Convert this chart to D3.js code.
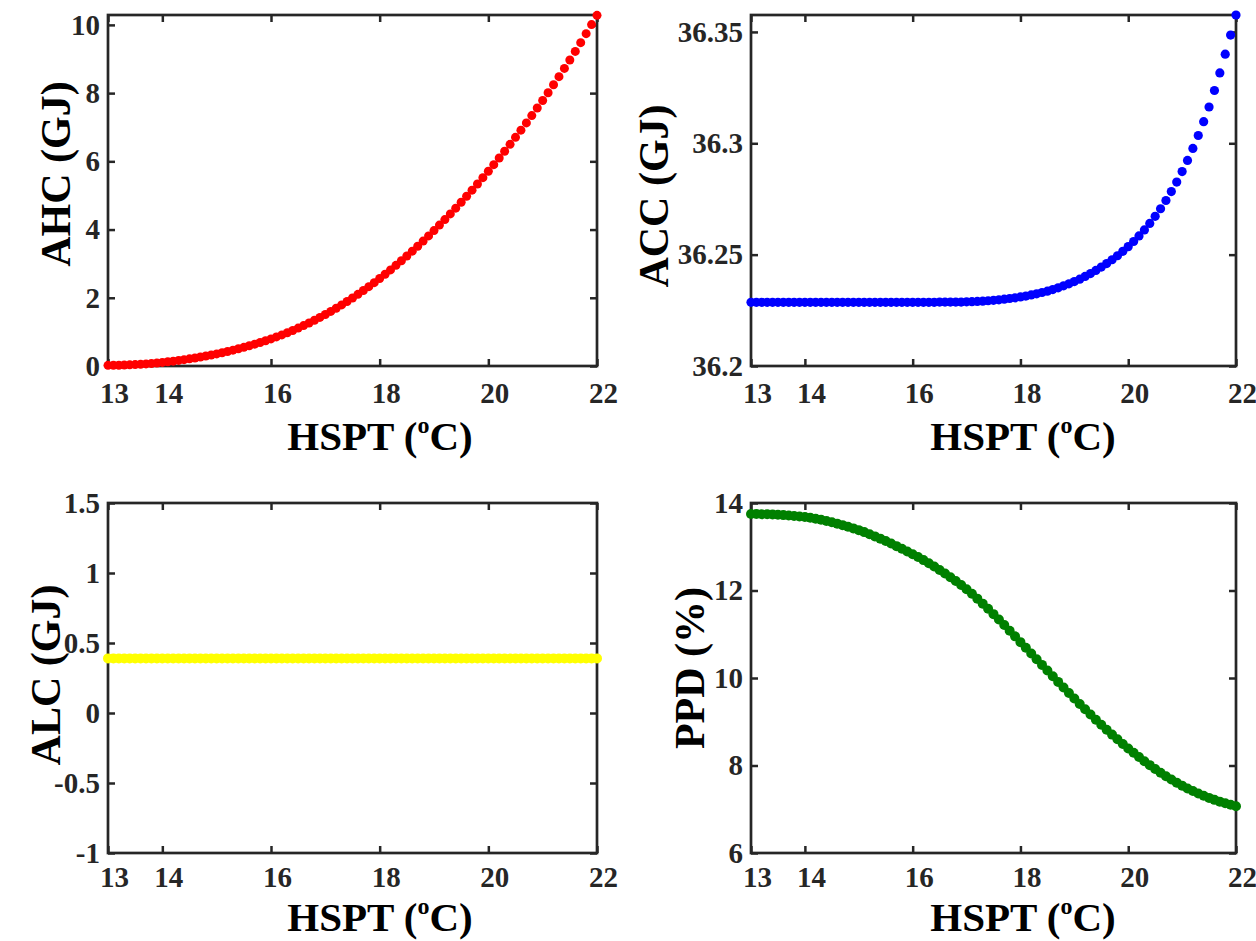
<!DOCTYPE html>
<html>
<head>
<meta charset="utf-8">
<script src="https://cdn.jsdelivr.net/npm/d3@7"></script>
<style>
  body { margin: 0; background: #fff; }
  svg text { font-family: "Liberation Serif", "Times New Roman", serif; font-weight: bold; }
</style>
</head>
<body>
<svg width="1256" height="941"></svg>
<script>
// heating set point, 13..22 step 0.1
var hspt = [13.0, 13.1, 13.2, 13.3, 13.4, 13.5, 13.6, 13.7, 13.8, 13.9,
    14.0, 14.1, 14.2, 14.3, 14.4, 14.5, 14.6, 14.7, 14.8, 14.9,
    15.0, 15.1, 15.2, 15.3, 15.4, 15.5, 15.6, 15.7, 15.8, 15.9,
    16.0, 16.1, 16.2, 16.3, 16.4, 16.5, 16.6, 16.7, 16.8, 16.9,
    17.0, 17.1, 17.2, 17.3, 17.4, 17.5, 17.6, 17.7, 17.8, 17.9,
    18.0, 18.1, 18.2, 18.3, 18.4, 18.5, 18.6, 18.7, 18.8, 18.9,
    19.0, 19.1, 19.2, 19.3, 19.4, 19.5, 19.6, 19.7, 19.8, 19.9,
    20.0, 20.1, 20.2, 20.3, 20.4, 20.5, 20.6, 20.7, 20.8, 20.9,
    21.0, 21.1, 21.2, 21.3, 21.4, 21.5, 21.6, 21.7, 21.8, 21.9,
    22.0];

// annual heating consumption (GJ)
var ahc = [0.020, 0.021, 0.023, 0.028, 0.034, 0.041, 0.051, 0.062, 0.074, 0.089,
    0.105, 0.123, 0.142, 0.163, 0.186, 0.210, 0.236, 0.263, 0.292, 0.323,
    0.355, 0.389, 0.425, 0.464, 0.505, 0.548, 0.593, 0.640, 0.689, 0.741,
    0.795, 0.852, 0.912, 0.975, 1.041, 1.111, 1.184, 1.261, 1.341, 1.424,
    1.510, 1.600, 1.693, 1.790, 1.890, 1.994, 2.101, 2.212, 2.326, 2.444,
    2.565, 2.690, 2.818, 2.950, 3.085, 3.224, 3.366, 3.512, 3.661, 3.814,
    3.970, 4.130, 4.292, 4.458, 4.628, 4.800, 4.976, 5.154, 5.336, 5.522,
    5.710, 5.902, 6.097, 6.296, 6.498, 6.704, 6.913, 7.126, 7.342, 7.562,
    7.785, 8.012, 8.245, 8.482, 8.724, 8.971, 9.223, 9.480, 9.742, 10.008,
    10.280];

// annual cooling consumption (GJ)
var acc = [36.2286, 36.2286, 36.2286, 36.2286, 36.2286, 36.2286, 36.2286, 36.2286, 36.2286, 36.2286,
    36.2286, 36.2286, 36.2286, 36.2286, 36.2286, 36.2286, 36.2286, 36.2286, 36.2286, 36.2286,
    36.2286, 36.2286, 36.2286, 36.2286, 36.2286, 36.2286, 36.2286, 36.2286, 36.2286, 36.2286,
    36.2286, 36.2286, 36.2286, 36.2286, 36.2286, 36.2287, 36.2287, 36.2287, 36.2287, 36.2287,
    36.2288, 36.2289, 36.2290, 36.2291, 36.2293, 36.2295, 36.2297, 36.2300, 36.2303, 36.2306,
    36.2310, 36.2314, 36.2319, 36.2324, 36.2330, 36.2336, 36.2343, 36.2351, 36.2360, 36.2369,
    36.2379, 36.2390, 36.2402, 36.2415, 36.2429, 36.2444, 36.2460, 36.2477, 36.2495, 36.2515,
    36.2536, 36.2559, 36.2584, 36.2611, 36.2640, 36.2672, 36.2706, 36.2743, 36.2783, 36.2826,
    36.2873, 36.2923, 36.2977, 36.3035, 36.3097, 36.3163, 36.3237, 36.3316, 36.3400, 36.3486,
    36.3576];

// annual lighting consumption (GJ)
var alc = [0.39, 0.39, 0.39, 0.39, 0.39, 0.39, 0.39, 0.39, 0.39, 0.39,
    0.39, 0.39, 0.39, 0.39, 0.39, 0.39, 0.39, 0.39, 0.39, 0.39,
    0.39, 0.39, 0.39, 0.39, 0.39, 0.39, 0.39, 0.39, 0.39, 0.39,
    0.39, 0.39, 0.39, 0.39, 0.39, 0.39, 0.39, 0.39, 0.39, 0.39,
    0.39, 0.39, 0.39, 0.39, 0.39, 0.39, 0.39, 0.39, 0.39, 0.39,
    0.39, 0.39, 0.39, 0.39, 0.39, 0.39, 0.39, 0.39, 0.39, 0.39,
    0.39, 0.39, 0.39, 0.39, 0.39, 0.39, 0.39, 0.39, 0.39, 0.39,
    0.39, 0.39, 0.39, 0.39, 0.39, 0.39, 0.39, 0.39, 0.39, 0.39,
    0.39, 0.39, 0.39, 0.39, 0.39, 0.39, 0.39, 0.39, 0.39, 0.39,
    0.39];

// predicted percentage dissatisfied (%)
var ppd = [13.750, 13.748, 13.745, 13.741, 13.736, 13.730, 13.723, 13.714, 13.704, 13.693,
    13.680, 13.662, 13.641, 13.617, 13.590, 13.560, 13.528, 13.494, 13.458, 13.420,
    13.380, 13.335, 13.287, 13.237, 13.185, 13.130, 13.073, 13.014, 12.954, 12.893,
    12.830, 12.764, 12.695, 12.623, 12.548, 12.470, 12.389, 12.304, 12.216, 12.125,
    12.030, 11.924, 11.814, 11.700, 11.582, 11.460, 11.336, 11.210, 11.082, 10.952,
    10.820, 10.690, 10.560, 10.430, 10.300, 10.170, 10.040, 9.911, 9.783, 9.656,
    9.530, 9.406, 9.284, 9.164, 9.046, 8.930, 8.817, 8.706, 8.598, 8.493,
    8.390, 8.290, 8.193, 8.099, 8.008, 7.920, 7.836, 7.756, 7.680, 7.608,
    7.540, 7.476, 7.416, 7.360, 7.308, 7.260, 7.215, 7.174, 7.136, 7.101,
    7.070];

// tick labels
var xTicks = [13, 14, 16, 18, 20, 22];
var ahcTicks = [0, 2, 4, 6, 8, 10];
var accTicks = [36.2, 36.25, 36.3, 36.35];
var alcTicks = [-1, -0.5, 0, 0.5, 1, 1.5];
var ppdTicks = [6, 8, 10, 12, 14];

var svg = d3.select("svg");
var axisColor = "#262626";

function drawPanel(p) {
    var x = d3.scaleLinear().domain([13, 22]).range([p.left, p.right]);
    var y = d3.scaleLinear().domain(p.yDomain).range([p.bottom, p.top]);
    var g = svg.append("g");

    // bottom axis with labels, inward ticks
    var bx = g.append("g")
        .attr("transform", "translate(0," + p.bottom + ")")
        .call(d3.axisBottom(x).tickValues(xTicks).tickSizeInner(-7).tickSizeOuter(0).tickFormat(d3.format("d")));
    bx.selectAll("text")
        .attr("y", p.xTickBase)
        .attr("dy", null)
        .attr("dx", 6)
        .style("font-size", "29px")
        .style("fill", axisColor);

    // top axis, ticks only
    g.append("g")
        .attr("transform", "translate(0," + p.top + ")")
        .call(d3.axisTop(x).tickValues(xTicks).tickSizeInner(-7).tickSizeOuter(0).tickFormat(""));

    // left axis with labels
    var ly = g.append("g")
        .attr("transform", "translate(" + p.left + ",0)")
        .call(d3.axisLeft(y).tickValues(p.yTicks).tickSizeInner(-7).tickSizeOuter(0).tickPadding(8).tickFormat(p.yFormat));
    ly.selectAll("text")
        .style("font-size", "29px")
        .style("fill", axisColor);

    // right axis, ticks only
    g.append("g")
        .attr("transform", "translate(" + p.right + ",0)")
        .call(d3.axisRight(y).tickValues(p.yTicks).tickSizeInner(-7).tickSizeOuter(0).tickFormat(""));

    g.selectAll(".domain").remove();
    g.selectAll(".tick line")
        .attr("stroke", axisColor)
        .attr("stroke-width", 2.5);

    // box
    g.append("rect")
        .attr("x", p.left)
        .attr("y", p.top)
        .attr("width", p.right - p.left)
        .attr("height", p.bottom - p.top)
        .attr("fill", "none")
        .attr("stroke", axisColor)
        .attr("stroke-width", 2.7);

    // markers
    g.append("g")
        .selectAll("circle")
        .data(p.values)
        .enter().append("circle")
        .attr("cx", (d, i) => x(hspt[i]))
        .attr("cy", (d) => y(d))
        .attr("r", p.r)
        .attr("fill", p.color);

    // x label with superscript o
    var xl = g.append("text")
        .attr("x", p.left + 272)
        .attr("y", p.xLabelBase)
        .attr("text-anchor", "middle")
        .style("font-size", "41px")
        .style("fill", "#000");
    xl.append("tspan").text("HSPT (");
    xl.append("tspan").attr("dy", -17).style("font-size", "24px").text("o");
    xl.append("tspan").attr("dy", 17).text("C)");

    // y label
    g.append("text")
        .attr("transform", "translate(" + p.yLabelX + "," + p.yLabelY + ") rotate(-90)")
        .attr("text-anchor", "middle")
        .style("font-size", "42px")
        .style("fill", "#000")
        .text(p.yLabel);
}

drawPanel({
    left: 108, right: 597, top: 15, bottom: 366,
    yDomain: [0, 10.29], yTicks: ahcTicks, yFormat: d3.format("d"),
    values: ahc, color: "#ff0000", r: 4.5,
    xTickBase: 37, xLabelBase: 450,
    yLabel: "AHC (GJ)", yLabelX: 70, yLabelY: 174
});

drawPanel({
    left: 751, right: 1236, top: 15, bottom: 366,
    yDomain: [36.2, 36.3576], yTicks: accTicks, yFormat: (d) => String(d),
    values: acc, color: "#0000ff", r: 4.6,
    xTickBase: 37, xLabelBase: 450,
    yLabel: "ACC (GJ)", yLabelX: 668, yLabelY: 196
});

drawPanel({
    left: 108, right: 597, top: 503, bottom: 853,
    yDomain: [-1, 1.5], yTicks: alcTicks, yFormat: (d) => String(d),
    values: alc, color: "#ffff00", r: 5,
    xTickBase: 34, xLabelBase: 931,
    yLabel: "ALC (GJ)", yLabelX: 60, yLabelY: 675
});

drawPanel({
    left: 751, right: 1236, top: 503, bottom: 853,
    yDomain: [6, 14], yTicks: ppdTicks, yFormat: d3.format("d"),
    values: ppd, color: "#008000", r: 5,
    xTickBase: 34, xLabelBase: 931,
    yLabel: "PPD (%)", yLabelX: 704, yLabelY: 668
});
</script>
</body>
</html>
